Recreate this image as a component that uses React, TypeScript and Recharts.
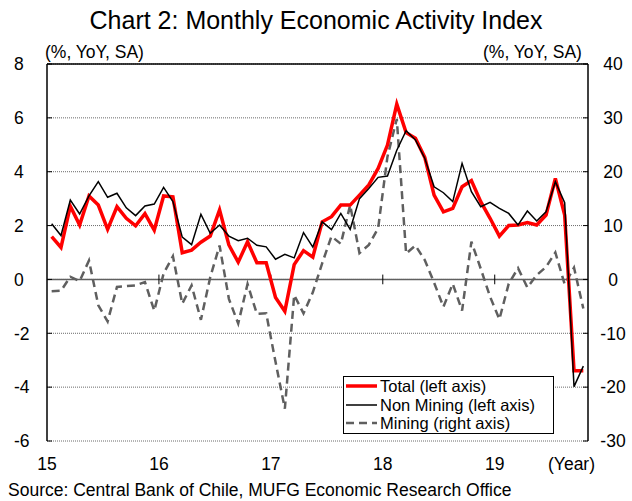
import { CartesianGrid, Line, LineChart, ReferenceLine, XAxis, YAxis } from "recharts";

// Jan 2015 .. Oct 2019, % YoY
const yearLabels = ["15", "16", "17", "18", "19"];

const total = [
  1.59, 1.19, 2.72, 2.02, 3.1, 2.76, 1.86, 2.7, 2.27, 1.99, 2.44, 1.83,
  3.1, 3.07, 0.99, 1.09, 1.38, 1.61, 2.58, 1.28, 0.64, 1.4, 0.62, 0.62,
  -0.67, -1.18, 0.55, 1.07, 0.83, 2.14, 2.33, 2.76, 2.76, 3.13, 3.51, 4.12,
  4.99, 6.51, 5.45, 5.24, 4.53, 3.13, 2.51, 2.64, 3.44, 3.67, 2.89, 2.27,
  1.61, 2.0, 2.02, 2.11, 2.02, 2.39, 3.75, 2.39, -3.39, -3.39,
];

const nonMining = [
  2.07, 1.63, 2.95, 2.43, 3.1, 3.63, 3.05, 3.2, 2.66, 2.37, 2.73, 2.8,
  3.42, 2.89, 1.57, 1.29, 2.42, 1.71, 2.02, 1.61, 1.44, 1.53, 1.27, 1.21,
  0.75, 0.93, 0.8, 1.74, 1.2, 2.14, 1.85, 2.45, 1.86, 3.0, 3.38, 3.79,
  3.84, 4.8, 5.52, 5.18, 4.5, 3.44, 3.22, 2.89, 4.31, 3.26, 2.7, 2.86,
  2.64, 2.45, 2.02, 2.54, 2.17, 2.51, 3.63, 2.85, -3.98, -3.22,
];

const mining = [
  -2.2, -2.1, 0.5, -0.3, 3.5, -4.8, -7.8, -1.4, -1.25, -1.1, -0.5, -5.8,
  1.1, 4.3, -4.5, -1.1, -7.5, 0.4, 6.3, -3.6, -8.2, -0.85, -6.4, -6.3,
  -15.3, -24.0, -2.9, -6.3, -2.4, 3.0, 8.0, 6.6, 13.8, 4.9, 6.4, 9.5,
  22.8, 29.8, 4.8, 6.3, 3.6, -0.6, -5.1, -0.8, -5.8, 7.0, 2.0, -3.2,
  -7.4, -0.8, 2.1, -1.5, 0.8, 2.3, 5.0, -0.9, 2.2, -5.4,
];

const leftTicks = [-6, -4, -2, 0, 2, 4, 6, 8];
const rightTicks = [-30, -20, -10, 0, 10, 20, 30, 40];

const FONT = '"Liberation Sans", Arial, sans-serif';
const RED = "#ff0000";
const GREY = "#5f5f5f";

const rows = total.map((v, i) => ({
  m: i + 0.5,
  total: v,
  nonMining: nonMining[i],
  mining: mining[i],
}));
const yearTicks = yearLabels.map((_, i) => i * 12);

function XTick({ x, payload }: any) {
  return (
    <text x={x} y={470} textAnchor="middle" fontSize={17.5} fontFamily={FONT} fill="#000">
      {yearLabels[Math.round(payload.value / 12)]}
    </text>
  );
}

function LeftTick({ y, payload }: any) {
  return (
    <g>
      <line x1={47} x2={52} y1={y} y2={y} stroke="#000" />
      <text x={14} y={y} dy="0.36em" fontSize={17.5} fontFamily={FONT} fill="#000">
        {payload.value}
      </text>
    </g>
  );
}

function RightTick({ y, payload }: any) {
  return (
    <g>
      <line x1={583} x2={588} y1={y} y2={y} stroke="#000" />
      <text x={613} y={y} dy="0.36em" textAnchor="middle" fontSize={17.5} fontFamily={FONT} fill="#000">
        {payload.value}
      </text>
    </g>
  );
}

function LegendBox() {
  const items = [
    { name: "Total (left axis)", color: RED, width: 3.5, dash: undefined },
    { name: "Non Mining (left axis)", color: "#000", width: 1.5, dash: undefined },
    { name: "Mining (right axis)", color: GREY, width: 2.5, dash: "8 5" },
  ];
  return (
    <div
      style={{
        position: "absolute",
        left: 343,
        top: 376,
        width: 209,
        height: 56,
        border: "1px solid #000",
        background: "#fff",
        fontFamily: FONT,
        fontSize: 16.5,
      }}
    >
      {items.map((it) => (
        <div key={it.name} style={{ display: "flex", alignItems: "center", height: 18.5 }}>
          <svg width={36} height={18} style={{ flexShrink: 0 }}>
            <line
              x1={2}
              x2={33}
              y1={9}
              y2={9}
              stroke={it.color}
              strokeWidth={it.width}
              strokeDasharray={it.dash}
            />
          </svg>
          <span style={{ whiteSpace: "nowrap", lineHeight: "18px" }}>{it.name}</span>
        </div>
      ))}
    </div>
  );
}

export default function App() {
  return (
    <div style={{ position: "absolute", left: 0, top: 0, width: 632, height: 501, background: "#fff", fontFamily: FONT }}>
      <div style={{ position: "absolute", left: 0, top: 8, width: 632, textAlign: "center", fontSize: 25, lineHeight: "25px" }}>
        Chart 2: Monthly Economic Activity Index
      </div>
      <div style={{ position: "absolute", left: 45, top: 44, fontSize: 17.5, lineHeight: "17.5px" }}>(%, YoY, SA)</div>
      <div style={{ position: "absolute", left: 483, top: 44, fontSize: 17.5, lineHeight: "17.5px" }}>(%, YoY, SA)</div>

      <LineChart width={632} height={501} data={rows} margin={{ top: 64, right: 43, bottom: 30, left: 46 }}>
        <CartesianGrid yAxisId="l" vertical={false} stroke="#6a6a6a" strokeDasharray="1 1" />
        <XAxis
          type="number"
          dataKey="m"
          domain={[0, total.length]}
          ticks={yearTicks}
          axisLine={false}
          tickLine={false}
          height={30}
          tick={<XTick />}
          interval={0}
        />
        <YAxis
          yAxisId="l"
          domain={[-6, 8]}
          ticks={leftTicks}
          width={1}
          axisLine={{ stroke: "#000", strokeWidth: 1.5 }}
          tickLine={false}
          tick={<LeftTick />}
          interval={0}
        />
        <YAxis
          yAxisId="r"
          orientation="right"
          domain={[-30, 40]}
          ticks={rightTicks}
          width={1}
          axisLine={{ stroke: "#000", strokeWidth: 1.5 }}
          tickLine={false}
          tick={<RightTick />}
          interval={0}
        />
        <ReferenceLine yAxisId="l" y={8} stroke="#000" strokeWidth={1.5} />
        <ReferenceLine yAxisId="l" y={0} stroke={GREY} strokeWidth={1.5} />
        {yearTicks.slice(1).map((t) => (
          <ReferenceLine
            key={t}
            yAxisId="l"
            segment={[
              { x: t, y: -0.18 },
              { x: t, y: 0.18 },
            ]}
            stroke="#000"
            strokeWidth={1}
          />
        ))}
        <Line
          yAxisId="r"
          type="linear"
          dataKey="mining"
          stroke={GREY}
          strokeWidth={2.5}
          strokeDasharray="8 5"
          dot={false}
          isAnimationActive={false}
        />
        <Line
          yAxisId="l"
          type="linear"
          dataKey="total"
          stroke={RED}
          strokeWidth={3.5}
          dot={false}
          isAnimationActive={false}
        />
        <Line
          yAxisId="l"
          type="linear"
          dataKey="nonMining"
          stroke="#000"
          strokeWidth={1.5}
          dot={false}
          isAnimationActive={false}
        />
      </LineChart>

      <LegendBox />
      <div style={{ position: "absolute", left: 548, top: 456, fontSize: 17.5, lineHeight: "17.5px" }}>(Year)</div>
      <div style={{ position: "absolute", left: 8, top: 482, fontSize: 17.5, lineHeight: "17.5px", whiteSpace: "nowrap" }}>
        Source: Central Bank of Chile, MUFG Economic Research Office
      </div>
    </div>
  );
}
